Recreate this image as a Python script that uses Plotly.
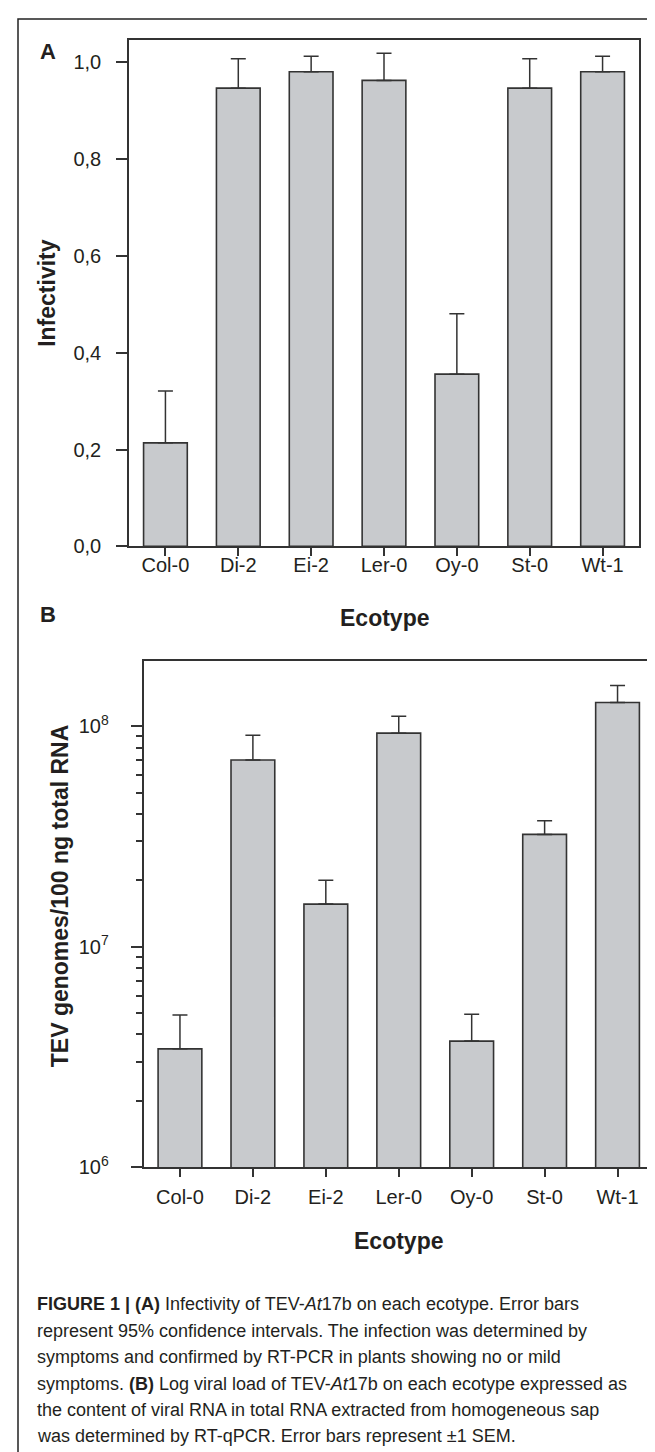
import plotly.graph_objects as go

# ---- data ----
ecotypes = ["Col-0", "Di-2", "Ei-2", "Ler-0", "Oy-0", "St-0", "Wt-1"]
infectivity = [0.214, 0.947, 0.981, 0.963, 0.356, 0.947, 0.981]
infectivity_ci_upper = [0.321, 1.008, 1.013, 1.019, 0.481, 1.008, 1.013]
viral_load = [3.44e6, 7.03e7, 1.56e7, 9.3e7, 3.73e6, 3.23e7, 1.28e8]
viral_load_sem_upper = [4.9e6, 9.1e7, 2.0e7, 1.11e8, 4.94e6, 3.73e7, 1.53e8]
inf_ticks = [0.0, 0.2, 0.4, 0.6, 0.8, 1.0]
log_major = [1e6, 1e7, 1e8]
log_major_text = ["10<sup>6</sup>", "10<sup>7</sup>", "10<sup>8</sup>"]
caption_lines = [
    "<b>FIGURE 1 | (A)</b> Infectivity of TEV-<i>At</i>17b on each ecotype. Error bars",
    "represent 95% confidence intervals. The infection was determined by",
    "symptoms and confirmed by RT-PCR in plants showing no or mild",
    "symptoms. <b>(B)</b> Log viral load of TEV-<i>At</i>17b on each ecotype expressed as",
    "the content of viral RNA in total RNA extracted from homogeneous sap",
    "was determined by RT-qPCR. Error bars represent \u00b11 SEM.",
]

W, H = 655, 1452
FONT = "Liberation Sans, Arial, Helvetica, sans-serif"
TXT = "#231f20"
LINE = "#333333"
FILL = "#c8cacd"


def px(x):
    return x / W


def py(y):
    return 1 - y / H


err_inf = [u - v for u, v in zip(infectivity_ci_upper, infectivity)]
err_vl = [u - v for u, v in zip(viral_load_sem_upper, viral_load)]

fig = go.Figure()
fig.add_trace(go.Bar(
    x=ecotypes, y=infectivity, xaxis="x", yaxis="y",
    marker=dict(color=FILL, line=dict(color=LINE, width=1.6)),
    error_y=dict(type="data", symmetric=False, array=err_inf,
                 arrayminus=[0] * len(err_inf), color=LINE,
                 thickness=1.5, width=7.5),
    showlegend=False, hoverinfo="skip",
))
fig.add_trace(go.Bar(
    x=ecotypes, y=viral_load, xaxis="x2", yaxis="y2",
    marker=dict(color=FILL, line=dict(color=LINE, width=1.6)),
    error_y=dict(type="data", symmetric=False, array=err_vl,
                 arrayminus=[0] * len(err_vl), color=LINE,
                 thickness=1.5, width=7.5),
    showlegend=False, hoverinfo="skip",
))

axis_common = dict(
    showline=True, linecolor=LINE, linewidth=1.5, mirror=True,
    ticks="outside", tickcolor=LINE, tickwidth=1.5,
    showgrid=False, zeroline=False,
    tickfont=dict(family=FONT, size=20, color=TXT),
)

fig.update_layout(
    width=W, height=H,
    margin=dict(l=0, r=0, t=0, b=0),
    paper_bgcolor="white", plot_bgcolor="white",
    separators=",.",
    bargap=0.4,
    xaxis=dict(domain=[px(121), px(631)], anchor="y", ticklen=8,
               ticklabelstandoff=-8, **axis_common),
    yaxis=dict(domain=[py(542.5), py(32)], anchor="x", range=[0, 1.047],
               tickmode="array", tickvals=inf_ticks, tickformat=".1f",
               ticklen=11, ticklabelstandoff=11, **axis_common),
    xaxis2=dict(domain=[px(135.5), px(646)], anchor="y2", ticklen=8,
                ticklabelstandoff=3, **axis_common),
    yaxis2=dict(domain=[py(1168), py(657.7)], anchor="x2", type="log",
                range=[6, 8.297], tickmode="array", tickvals=log_major,
                ticktext=log_major_text, ticklen=11, ticklabelstandoff=18,
                minor=dict(ticks="outside", ticklen=6, tickcolor=LINE,
                           tickwidth=1.5, showgrid=False,
                           tickmode="array",
                           tickvals=[d * m for d in (1e6, 1e7) for m in range(2, 10)]),
                **axis_common),
)

annotations = [
    dict(text="<b>A</b>", x=px(40), y=py(44)),
    dict(text="<b>B</b>", x=px(40), y=py(611)),
]
for a in annotations:
    a.update(xref="paper", yref="paper", showarrow=False,
             xanchor="center", yanchor="middle",
             font=dict(family=FONT, size=22, color=TXT))
# axis titles
titles = [
    dict(text="<b>Ecotype</b>", x=px(376), y=py(615), textangle=0),
    dict(text="<b>Ecotype</b>", x=px(391), y=py(1242), textangle=0),
    dict(text="<b>Infectivity</b>", x=px(39), y=py(287), textangle=-90),
    dict(text="<b>TEV genomes/100 ng total RNA</b>", x=px(52), y=py(895), textangle=-90),
]
for t in titles:
    t.update(xref="paper", yref="paper", showarrow=False,
             xanchor="center", yanchor="middle",
             font=dict(family=FONT, size=23, color=TXT))
annotations += titles

line_y = [1306, 1333, 1359, 1386, 1413, 1439]
for txt, yy in zip(caption_lines, line_y):
    annotations.append(dict(
        text=txt, x=px(27), y=py(yy), xref="paper", yref="paper",
        showarrow=False, xanchor="left", yanchor="middle",
        font=dict(family=FONT, size=18, color=TXT),
    ))
fig.update_layout(annotations=annotations)

# outer figure frame
fig.add_shape(type="rect", xref="paper", yref="paper",
              x0=px(10), x1=1.05, y0=-0.05, y1=py(11),
              line=dict(color="#222222", width=1.5), layer="below")

fig.write_html("out.html")
